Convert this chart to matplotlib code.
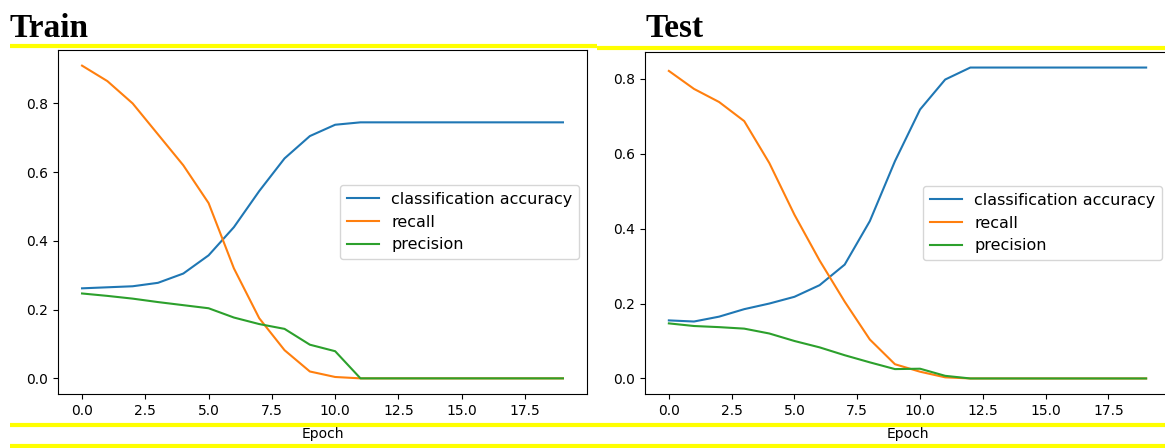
import matplotlib
matplotlib.use("Agg")
import matplotlib.pyplot as plt
from matplotlib.lines import Line2D

epochs = list(range(20))

train_accuracy = [0.262, 0.265, 0.268, 0.278, 0.305, 0.358, 0.44, 0.545, 0.64, 0.705,
                  0.738, 0.745, 0.745, 0.745, 0.745, 0.745, 0.745, 0.745, 0.745, 0.745]
train_recall = [0.91, 0.865, 0.80, 0.71, 0.62, 0.51, 0.32, 0.175, 0.082, 0.02,
                0.004, 0.0, 0.0, 0.0, 0.0, 0.0, 0.0, 0.0, 0.0, 0.0]
train_precision = [0.247, 0.24, 0.232, 0.222, 0.213, 0.204, 0.177, 0.158, 0.144, 0.098,
                   0.079, 0.0, 0.0, 0.0, 0.0, 0.0, 0.0, 0.0, 0.0, 0.0]

test_accuracy = [0.155, 0.152, 0.165, 0.185, 0.2, 0.218, 0.249, 0.304, 0.42, 0.58,
                 0.718, 0.798, 0.83, 0.83, 0.83, 0.83, 0.83, 0.83, 0.83, 0.83]
test_recall = [0.821, 0.773, 0.738, 0.687, 0.575, 0.437, 0.315, 0.205, 0.104, 0.038,
               0.018, 0.003, 0.0, 0.0, 0.0, 0.0, 0.0, 0.0, 0.0, 0.0]
test_precision = [0.147, 0.14, 0.137, 0.133, 0.12, 0.1, 0.083, 0.062, 0.043, 0.025,
                  0.026, 0.007, 0.0, 0.0, 0.0, 0.0, 0.0, 0.0, 0.0, 0.0]

series_labels = ["classification accuracy", "recall", "precision"]
panel_titles = ["Train", "Test"]

W, H = 1165, 448
fig = plt.figure(figsize=(W / 100, H / 100), dpi=100)


def px_axes(left, top, right, bottom):
    return fig.add_axes([left / W, 1 - bottom / H, (right - left) / W, (bottom - top) / H])


panels = [
    (px_axes(58, 50, 587, 394), train_accuracy, train_recall, train_precision),
    (px_axes(645, 52, 1170, 394), test_accuracy, test_recall, test_precision),
]

for ax, acc, rec, prec in panels:
    ax.plot(epochs, acc, label=series_labels[0])
    ax.plot(epochs, rec, label=series_labels[1])
    ax.plot(epochs, prec, label=series_labels[2])
    ax.set_xlabel("Epoch", labelpad=7)
    ax.legend(loc="center right", fontsize=11.5)

# Bold serif section headings
fig.text(10 / W, 1 - 37 / H, panel_titles[0], family="Liberation Serif",
         weight="bold", fontsize=24, ha="left", va="baseline")
fig.text(645 / W, 1 - 37 / H, panel_titles[1], family="Liberation Serif",
         weight="bold", fontsize=24, ha="left", va="baseline")

# Yellow highlight rules across the page
yellow = "#ffff00"
rules = [
    ((10, 597), (46, 46)),
    ((597, 1165), (48, 48)),
    ((10, 1165), (425, 425)),
    ((10, 1165), (446, 446)),
]
for xs, ys in rules:
    fig.add_artist(Line2D([x / W for x in xs], [1 - y / H for y in ys],
                          color=yellow, linewidth=3, transform=fig.transFigure,
                          solid_capstyle="butt"))

fig.savefig("out.png", dpi=100)
